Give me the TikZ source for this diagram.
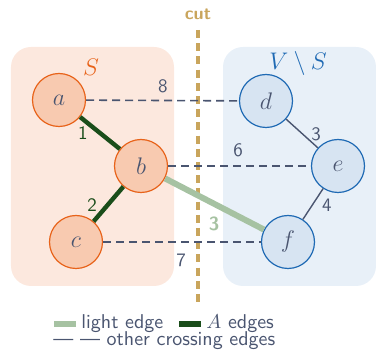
\documentclass[tikz,border=0pt]{standalone}
\usepackage{amsmath}
\begin{document}
\begin{tikzpicture}[x=0.5pt,y=-0.5pt,
  txt/.style={text=inkgray},
  snode/.style={circle,draw=sorange,fill=sfill,line width=0.6pt,minimum size=26.5pt,inner sep=0pt,text=inkgray,font=\fontsize{12}{14}\selectfont},
  tnode/.style={circle,draw=tblue,fill=tfill,line width=0.6pt,minimum size=26.5pt,inner sep=0pt,text=inkgray,font=\fontsize{12}{14}\selectfont},
  aedge/.style={draw=darkgreen,line width=2.2pt},
  lightedge/.style={draw=lightgreen,line width=3pt},
  crossedge/.style={draw=inkgray,line width=0.8pt,dash pattern=on 4pt off 2.5pt},
  inedge/.style={draw=inkgray,line width=0.7pt},
  wlabel/.style={font=\sffamily\fontsize{9.5}{11}\selectfont,text=inkgray,inner sep=1pt},
  region/.style={rounded corners=10pt}
]
\definecolor{inkgray}{HTML}{4A5570}
\definecolor{sorange}{HTML}{E8631A}
\definecolor{sfill}{HTML}{F8CAB0}
\definecolor{tblue}{HTML}{1F6AB4}
\definecolor{tfill}{HTML}{D7E4F2}
\definecolor{sbg}{HTML}{FCE8DE}
\definecolor{tbg}{HTML}{E8F0F8}
\definecolor{darkgreen}{HTML}{1A4D1A}
\definecolor{lightgreen}{HTML}{A6C2A2}
\definecolor{cutcol}{HTML}{C9A55C}
\useasboundingbox (0,0) rectangle (376,352);
% regions
\fill[sbg,region] (11,47) rectangle (174,286);
\fill[tbg,region] (223,47) rectangle (376,286);
\node[text=sorange,font=\fontsize{12}{14}\selectfont] (Slab) at (91,67) {$S$};
\node[text=tblue,font=\fontsize{12}{14}\selectfont] (VSlab) at (298,64) {$V \setminus S$};
% cut
\node[text=cutcol,font=\sffamily\bfseries\fontsize{9}{11}\selectfont] (cutlab) at (198,14) {cut};
\coordinate (cuttop) at (198,30);
\coordinate (cutbot) at (198,302);
\draw[cutcol,line width=1.6pt,dash pattern=on 4pt off 2.6pt] (cuttop) -- (cutbot);
% nodes
\node[snode] (a) at (59,100) {$a$};
\node[snode] (b) at (141,166) {$b$};
\node[snode] (c) at (76,242) {$c$};
\node[tnode] (d) at (266,101) {$d$};
\node[tnode] (e) at (338,166) {$e$};
\node[tnode] (f) at (288,242) {$f$};
% edges
\draw[lightedge] (b) -- (f);
\draw[aedge] (a) -- (b);
\draw[aedge] (b) -- (c);
\draw[crossedge] (a) -- (d);
\draw[crossedge] (b) -- (e);
\draw[crossedge] (c) -- (f);
\draw[inedge] (d) -- (e);
\draw[inedge] (e) -- (f);
% weights
\node[wlabel,text=darkgreen] (w1) at (83,133) {1};
\node[wlabel,text=darkgreen] (w2) at (92,205) {2};
\node[wlabel,text=lightgreen,font=\sffamily\bfseries\fontsize{9.5}{11}\selectfont] (w3) at (214,224) {3};
\node[wlabel] (w8) at (163,86) {8};
\node[wlabel] (w6) at (238,150) {6};
\node[wlabel] (w7) at (181,260) {7};
\node[wlabel] (w3b) at (316,134) {3};
\node[wlabel] (w4) at (327,205) {4};
% legend
\coordinate (l1a) at (54,324);
\coordinate (l1b) at (76,324);
\coordinate (l2a) at (179,324);
\coordinate (l2b) at (201,324);
\draw[lightedge] (l1a) -- (l1b);
\draw[aedge,line width=2.8pt] (l2a) -- (l2b);
\node[anchor=west,inner sep=0pt,text=inkgray,font=\sffamily\fontsize{10}{12}\selectfont] (lg1) at (81,324) {light edge};
\node[anchor=west,inner sep=0pt,text=inkgray,font=\sffamily\fontsize{10}{12}\selectfont] (lg2) at (206,324) {$A$ edges};
\node[anchor=west,inner sep=0pt,text=inkgray,font=\sffamily\fontsize{10}{12}\selectfont] (lg3) at (53,341) {--- --- other crossing edges};
\end{tikzpicture}
\end{document}
